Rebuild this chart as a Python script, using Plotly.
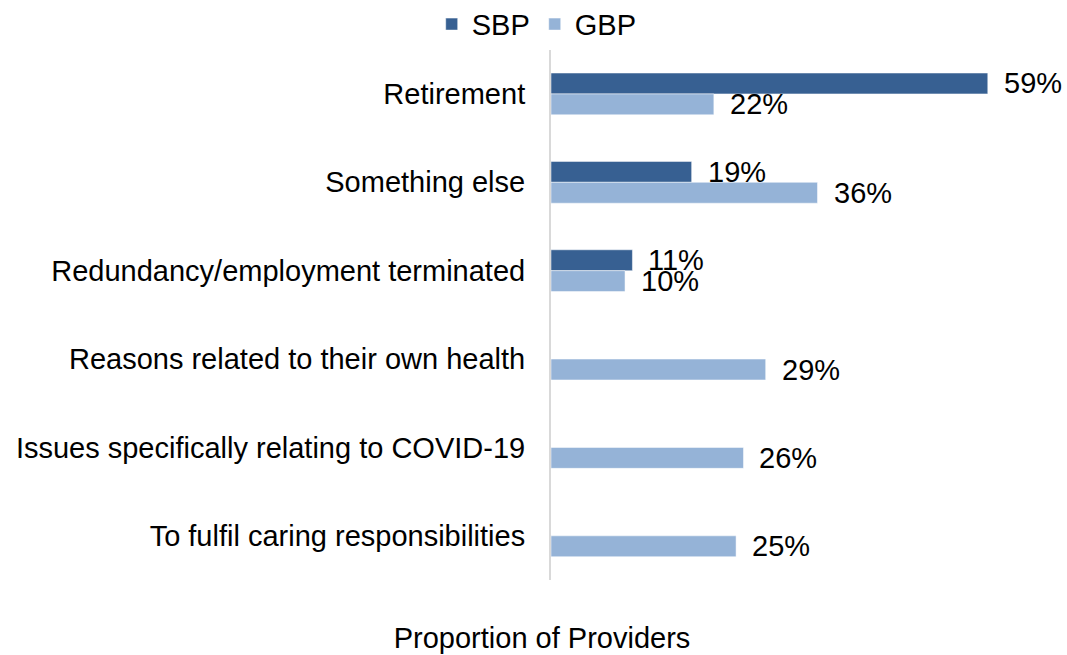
import plotly.graph_objects as go

# Reasons providers gave for leaving (share of providers)
categories = [
    "Retirement",
    "Something else",
    "Redundancy/employment terminated",
    "Reasons related to their own health",
    "Issues specifically relating to COVID-19",
    "To fulfil caring responsibilities",
]
sbp_values = [59, 19, 11, None, None, None]
gbp_values = [22, 36, 10, 29, 26, 25]

SBP_COLOR = "#376092"
GBP_COLOR = "#95B3D7"
FONT = "Arial, Liberation Sans, sans-serif"
FS = 29

fig = go.Figure()
fig.add_trace(go.Bar(
    name="SBP", y=categories, x=sbp_values, orientation="h",
    marker=dict(color=SBP_COLOR, line=dict(color="#ffffff", width=0.5)),
))
fig.add_trace(go.Bar(
    name="GBP", y=categories, x=gbp_values, orientation="h",
    marker=dict(color=GBP_COLOR, line=dict(color="#ffffff", width=0.5)),
))

# Value labels just past the end of each bar
annotations = []
for series, shift in ((sbp_values, 10.5), (gbp_values, -10.5)):
    for cat, val in zip(categories, series):
        if val is None:
            continue
        annotations.append(dict(
            x=val, y=cat, xref="x", yref="y", text=f"{val}%",
            showarrow=False, xanchor="left", yanchor="middle",
            xshift=14, yshift=shift,
            font=dict(family=FONT, size=FS, color="#000000"),
        ))

fig.update_layout(
    width=1067, height=655,
    margin=dict(l=551, r=0, t=47, b=75),
    paper_bgcolor="#ffffff", plot_bgcolor="#ffffff",
    font=dict(family=FONT, size=FS, color="#000000"),
    barmode="group", bargap=0.527, bargroupgap=0,
    showlegend=True,
    legend=dict(
        orientation="h", xref="container", yref="container",
        x=0.503, xanchor="center", y=0.963, yanchor="middle",
        font=dict(family=FONT, size=FS, color="#000000"),
        itemclick=False, itemdoubleclick=False,
        tracegroupgap=0, itemwidth=30,
    ),
    title=dict(
        text="Proportion of Providers",
        xref="container", yref="container",
        x=0.508, xanchor="center", y=0.011, yanchor="bottom",
        font=dict(family=FONT, size=FS, color="#000000"),
    ),
    annotations=annotations,
)
fig.update_xaxes(
    range=[0, 69.7], showgrid=False, zeroline=False,
    showticklabels=False, ticks="", showline=False, fixedrange=True,
)
fig.update_yaxes(
    categoryorder="array", categoryarray=categories, autorange="reversed",
    showgrid=False, zeroline=False, ticks="",
    showline=True, linecolor="#D9D9D9", linewidth=2,
    ticklabelstandoff=18, fixedrange=True,
    tickfont=dict(family=FONT, size=FS, color="#000000"),
)

fig.write_html("out.html")
